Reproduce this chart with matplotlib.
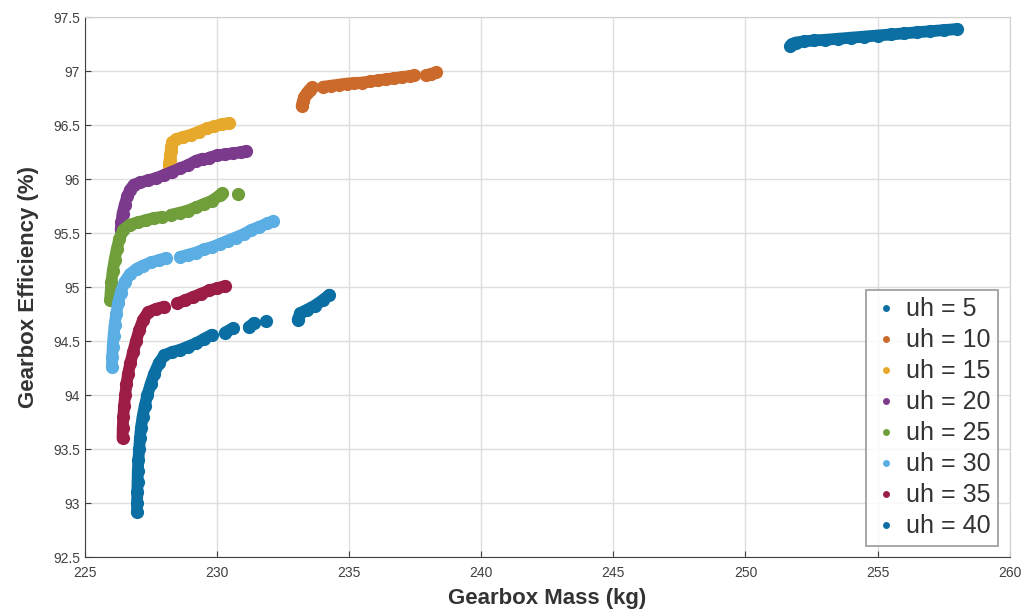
import numpy as np
import matplotlib.pyplot as plt
from matplotlib.lines import Line2D

plt.rcParams['font.family'] = ['Liberation Sans', 'DejaVu Sans']

# Pareto fronts (nan = visible gap in the cloud)
nan = np.nan

uh5_mass = [251.7, 251.75, 251.9, 252.2, 252.6, 253.0, 253.5, 254.0, 254.5, 255.0, 255.5, 256.0, 256.5, 257.0, 257.5, 258.0]
uh5_eff = [97.23, 97.25, 97.265, 97.275, 97.285, 97.29, 97.30, 97.31, 97.32, 97.33, 97.34, 97.35, 97.36, 97.37, 97.38, 97.39]

uh10_mass = [233.2, 233.25, 233.3, 233.4, 233.5, 233.6, nan, 234.0, 234.3, 234.6, 234.9, 235.2, 235.5, 235.8, 236.1, 236.4, 236.7, 237.0, 237.3, 237.45, nan, 237.9, 238.1, 238.3]
uh10_eff = [96.68, 96.72, 96.76, 96.80, 96.83, 96.85, nan, 96.855, 96.865, 96.875, 96.885, 96.89, 96.895, 96.905, 96.915, 96.925, 96.935, 96.945, 96.955, 96.96, nan, 96.96, 96.975, 96.99]

uh15_mass = [228.18, 228.18, 228.2, 228.22, 228.24, 228.26, 228.3, 228.45, 228.7, 229.0, 229.3, 229.6, 229.9, 230.2, 230.45]
uh15_eff = [96.10, 96.14, 96.18, 96.22, 96.26, 96.30, 96.34, 96.37, 96.39, 96.41, 96.44, 96.47, 96.49, 96.51, 96.52]

uh20_mass = [226.35, 226.38, 226.42, 226.5, 226.6, 226.7, 226.85, 227.1, 227.4, 227.7, 228.0, 228.3, 228.6, 228.9, 229.2, 229.45, nan, 229.7, 230.0, 230.3, 230.6, 230.9, 231.1]
uh20_eff = [95.53, 95.60, 95.68, 95.76, 95.84, 95.90, 95.95, 95.97, 95.99, 96.01, 96.04, 96.07, 96.10, 96.13, 96.17, 96.19, nan, 96.20, 96.22, 96.23, 96.24, 96.25, 96.26]

uh25_mass = [225.95, 225.97, 226.0, 226.05, 226.12, 226.2, 226.3, 226.45, 226.7, 227.0, 227.3, 227.6, 227.9, nan, 228.25, 228.6, 228.9, 229.2, 229.5, 229.8, 230.1, 230.2, nan, 230.8]
uh25_eff = [94.88, 94.95, 95.05, 95.15, 95.25, 95.35, 95.45, 95.53, 95.58, 95.60, 95.62, 95.64, 95.65, nan, 95.67, 95.69, 95.71, 95.74, 95.77, 95.80, 95.85, 95.87, nan, 95.86]

uh30_mass = [226.02, 226.03, 226.05, 226.08, 226.12, 226.18, 226.25, 226.35, 226.5, 226.7, 226.95, 227.2, 227.5, 227.8, 228.05, nan, 228.6, 228.9, 229.2, 229.5, 229.8, 230.1, 230.4, 230.7, 231.0, 231.3, 231.6, 231.9, 232.1]
uh30_eff = [94.26, 94.35, 94.45, 94.55, 94.65, 94.75, 94.85, 94.95, 95.05, 95.12, 95.17, 95.20, 95.23, 95.25, 95.27, nan, 95.28, 95.30, 95.32, 95.35, 95.37, 95.40, 95.43, 95.46, 95.49, 95.53, 95.56, 95.59, 95.61]

uh35_mass = [226.42, 226.43, 226.45, 226.48, 226.52, 226.57, 226.63, 226.72, 226.82, 226.93, 227.05, 227.2, 227.4, 227.7, 228.0, nan, 228.5, 228.8, 229.1, 229.4, 229.7, 230.0, 230.3]
uh35_eff = [93.60, 93.70, 93.80, 93.90, 94.00, 94.10, 94.20, 94.30, 94.40, 94.50, 94.60, 94.70, 94.77, 94.80, 94.82, nan, 94.85, 94.88, 94.91, 94.94, 94.97, 94.99, 95.01]

uh40_mass = [226.97, 226.97, 226.98, 226.99, 227.0, 227.02, 227.05, 227.08, 227.12, 227.18, 227.26, 227.36, 227.48, 227.62, 227.8, 228.0, 228.3, 228.6, 228.9, 229.2, 229.5, 229.8, nan, 230.3, 230.6, nan, 231.2, 231.4, nan, 231.85, nan, 233.05, 233.15, 233.4, 233.7, 234.0, 234.25]
uh40_eff = [92.92, 93.00, 93.10, 93.20, 93.30, 93.40, 93.50, 93.60, 93.70, 93.80, 93.90, 94.00, 94.10, 94.20, 94.30, 94.37, 94.40, 94.42, 94.45, 94.48, 94.52, 94.56, nan, 94.58, 94.62, nan, 94.63, 94.67, nan, 94.69, nan, 94.70, 94.76, 94.79, 94.83, 94.88, 94.93]

labels = ['uh = 5', 'uh = 10', 'uh = 15', 'uh = 20', 'uh = 25', 'uh = 30', 'uh = 35', 'uh = 40']
colors = ['#0b6fa4', '#cc6a2c', '#e6a92b', '#7b3a8c', '#6f9e3a', '#5aaee3', '#9b1d45', '#0b6fa4']

series = [(uh5_mass, uh5_eff), (uh10_mass, uh10_eff), (uh15_mass, uh15_eff),
          (uh20_mass, uh20_eff), (uh25_mass, uh25_eff), (uh30_mass, uh30_eff),
          (uh35_mass, uh35_eff), (uh40_mass, uh40_eff)]

fig = plt.figure(figsize=(10.24, 6.13), dpi=100)
ax = fig.add_axes([0.083, 0.091, 0.903, 0.881])

for (m, e), c in zip(series, colors):
    ax.plot(m, e, '-o', color=c, lw=8.5, ms=9.5, mec='none',
            solid_capstyle='round', solid_joinstyle='round')

ax.set_xlim(225, 260)
ax.set_ylim(92.5, 97.5)
ax.set_xticks(np.arange(225, 261, 5))
ax.set_yticks(np.arange(92.5, 97.6, 0.5))
ax.set_yticklabels(['92.5', '93', '93.5', '94', '94.5', '95', '95.5', '96', '96.5', '97', '97.5'])
ax.grid(True, color='#dedede', lw=1)
ax.set_axisbelow(True)
ax.tick_params(direction='in', length=4, labelsize=10, colors='#404040')
ax.tick_params(axis='x', pad=6)
for side in ['left', 'bottom']:
    ax.spines[side].set_color('#404040')
for side in ['top', 'right']:
    ax.spines[side].set_color('#cfcfcf')

ax.set_xlabel('Gearbox Mass (kg)', fontsize=16, fontweight='bold', color='#333333', labelpad=6)
ax.set_ylabel('Gearbox Efficiency (%)', fontsize=16, fontweight='bold', color='#333333', labelpad=10)

handles = [Line2D([], [], ls='none', marker='o', ms=5, mec='none', color=c) for c in colors]
leg = ax.legend(handles, labels, loc='lower right', fontsize=18, frameon=True, fancybox=False,
                edgecolor='#808080', labelspacing=0.28, handletextpad=0.3, handlelength=1.0,
                borderpad=0.3, borderaxespad=0.45)
leg.get_frame().set_linewidth(1.2)
for t in leg.get_texts():
    t.set_color('#333333')

fig.savefig('out.png', dpi=100)
